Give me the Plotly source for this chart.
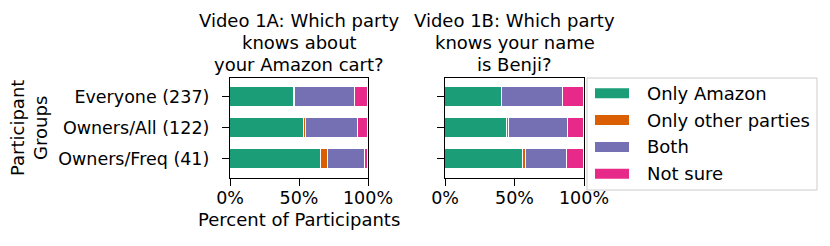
import plotly.graph_objects as go

W, H = 830, 246

groups = ["Everyone (237)", "Owners/All (122)", "Owners/Freq (41)"]
series_names = ["Only Amazon", "Only other parties", "Both", "Not sure"]
colors = ["#1b9e77", "#d95f02", "#7570b3", "#e7298a"]

# Percent of participants, per series, per group (Video 1A)
v1a_only_amazon = [46.4, 53.3, 65.9]
v1a_only_other = [0.8, 1.6, 4.9]
v1a_both = [43.5, 37.7, 26.8]
v1a_not_sure = [9.3, 7.4, 2.4]

# Video 1B
v1b_only_amazon = [40.9, 44.3, 56.1]
v1b_only_other = [0.0, 1.6, 2.4]
v1b_both = [44.3, 42.6, 29.3]
v1b_not_sure = [14.8, 11.5, 12.2]

x_ticks = [0, 50, 100]
x_tick_labels = ["0%", "50%", "100%"]

titles = [["Video 1A: Which party", "knows about", "your Amazon cart?"],
          ["Video 1B: Which party", "knows your name", "is Benji?"]]

FONT = "DejaVu Sans"
TICK_SIZE = 17.5
TEXT_SIZE = 18

def px_x(p):
    return p / W

def px_y(p):
    return 1 - p / H

fig = go.Figure()

panels = [
    ("x", "y", [v1a_only_amazon, v1a_only_other, v1a_both, v1a_not_sure]),
    ("x2", "y2", [v1b_only_amazon, v1b_only_other, v1b_both, v1b_not_sure]),
]
for xa, ya, vals in panels:
    for name, col, v in zip(series_names, colors, vals):
        fig.add_trace(go.Bar(
            y=groups, x=v, orientation="h", name=name,
            marker=dict(color=col, line=dict(color="white", width=1)),
            width=0.64, xaxis=xa, yaxis=ya, showlegend=False,
        ))

left_dom = [px_x(230), px_x(368)]
right_dom = [px_x(445), px_x(584)]
y_dom = [px_y(177.5), px_y(78)]

axis_common = dict(
    showline=True, linecolor="black", linewidth=1.3, mirror=True,
    ticks="outside", ticklen=7, tickwidth=1.3, tickcolor="black",
    showgrid=False, zeroline=False, automargin=False,
    tickfont=dict(family=FONT, size=TICK_SIZE, color="black"),
)

fig.update_layout(
    template="none",
    width=W, height=H,
    margin=dict(l=0, r=0, t=0, b=0, pad=0),
    paper_bgcolor="white", plot_bgcolor="white",
    barmode="stack", bargap=0,
    font=dict(family=FONT, size=16, color="black"),
    xaxis=dict(domain=left_dom, range=[0, 100], tickvals=x_ticks,
               ticktext=x_tick_labels, anchor="y", ticklabelstandoff=-3, **axis_common),
    xaxis2=dict(domain=right_dom, range=[0, 100], tickvals=x_ticks,
                ticktext=x_tick_labels, anchor="y2", ticklabelstandoff=-3, **axis_common),
    yaxis=dict(domain=y_dom, type="category", categoryarray=groups,
               range=[2.6, -0.6], anchor="x", ticklabelstandoff=9, **axis_common),
    yaxis2=dict(domain=y_dom, type="category", categoryarray=groups,
                range=[2.6, -0.6], anchor="x2", showticklabels=False, **axis_common),
    showlegend=False,
)

annotations = []
# titles
for cx, lines in zip([299, 514.5], titles):
    for i, line in enumerate(lines):
        annotations.append(dict(
            x=px_x(cx), y=px_y(20 + 22 * i), xref="paper", yref="paper",
            text=line, showarrow=False, xanchor="center", yanchor="middle",
            font=dict(family=FONT, size=TEXT_SIZE, color="black")))

# axis titles
annotations.append(dict(
    x=px_x(299), y=px_y(219), xref="paper", yref="paper",
    text="Percent of Participants", showarrow=False,
    xanchor="center", yanchor="middle",
    font=dict(family=FONT, size=TEXT_SIZE, color="black")))
annotations.append(dict(
    x=px_x(29), y=px_y(128), xref="paper", yref="paper",
    text="Participant<br>Groups", showarrow=False, textangle=-90,
    xanchor="center", yanchor="middle",
    font=dict(family=FONT, size=TEXT_SIZE, color="black")))

# manual legend
shapes = [dict(type="rect", xref="paper", yref="paper",
               x0=px_x(587), x1=px_x(817), y0=px_y(190), y1=px_y(78),
               line=dict(color="#cccccc", width=1), fillcolor="white",
               layer="above")]
for i, (name, col) in enumerate(zip(series_names, colors)):
    cy = 93.3 + 26.8 * i
    shapes.append(dict(type="rect", xref="paper", yref="paper",
                       x0=px_x(595), x1=px_x(629), y0=px_y(cy + 5), y1=px_y(cy - 5),
                       line=dict(width=0), fillcolor=col, layer="above"))
    annotations.append(dict(
        x=px_x(645), y=px_y(cy), xref="paper", yref="paper",
        text=name, showarrow=False, xanchor="left", yanchor="middle",
        font=dict(family=FONT, size=TEXT_SIZE, color="black")))

fig.update_layout(annotations=annotations, shapes=shapes)

fig.write_html(
    "out.html",
    config={"displayModeBar": False},
    post_script="document.body.style.margin='0';document.body.style.padding='0';"
                "document.body.style.overflow='hidden';",
)
